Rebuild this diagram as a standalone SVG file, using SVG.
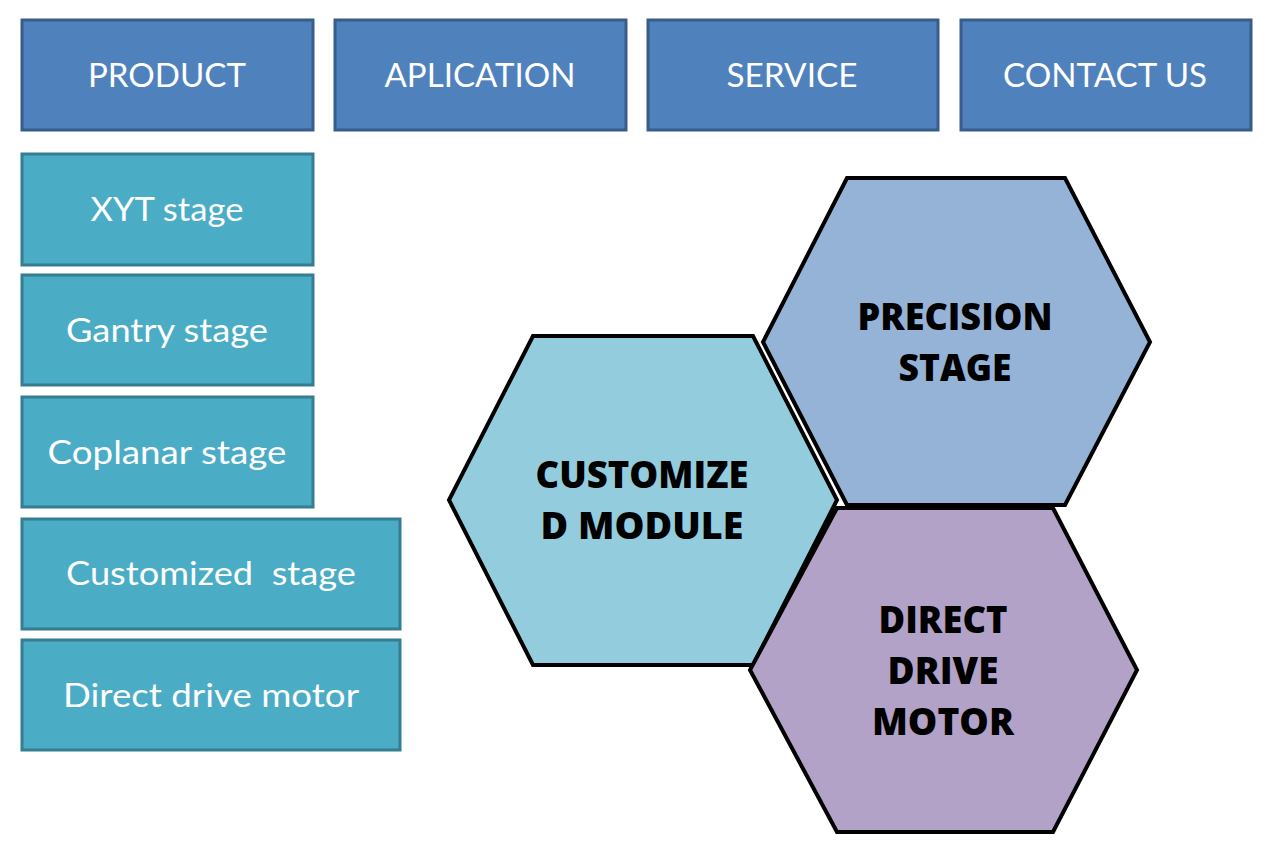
<svg xmlns="http://www.w3.org/2000/svg" width="1273" height="853" viewBox="0 0 1273 853">
<style>
.top{fill:#4f81bd;stroke:#385d8a;stroke-width:3}
.side{fill:#4bacc6;stroke:#357d91;stroke-width:3}
.hex{stroke:#000;stroke-width:4;stroke-linejoin:miter}
.lt{font-family:Lato,"Open Sans",sans-serif;font-size:32px;fill:#fff;text-anchor:middle}
.ht{font-family:"Open Sans",Lato,sans-serif;font-weight:800;font-size:37px;fill:#000;text-anchor:middle}
</style>
<rect width="1273" height="853" fill="#fff"/>
<g id="product"><rect class="top" x="22" y="20" width="291" height="110"/><text class="lt" x="167" y="87" textLength="158" lengthAdjust="spacingAndGlyphs">PRODUCT</text></g>
<g id="aplication"><rect class="top" x="335" y="20" width="291" height="110"/><text class="lt" x="480" y="87" textLength="191" lengthAdjust="spacingAndGlyphs">APLICATION</text></g>
<g id="service"><rect class="top" x="648" y="20" width="290" height="110"/><text class="lt" x="792" y="87" textLength="131" lengthAdjust="spacingAndGlyphs">SERVICE</text></g>
<g id="contact"><rect class="top" x="961" y="20" width="290" height="110"/><text class="lt" x="1105" y="87" textLength="204" lengthAdjust="spacingAndGlyphs">CONTACT US</text></g>
<g id="xyt"><rect class="side" x="22" y="154" width="291" height="111"/><text class="lt" x="167" y="221" textLength="153" lengthAdjust="spacingAndGlyphs">XYT stage</text></g>
<g id="gantry"><rect class="side" x="22" y="275" width="291" height="110"/><text class="lt" x="167" y="342" textLength="202" lengthAdjust="spacingAndGlyphs">Gantry stage</text></g>
<g id="coplanar"><rect class="side" x="22" y="397" width="291" height="110"/><text class="lt" x="167" y="464" textLength="239" lengthAdjust="spacingAndGlyphs">Coplanar stage</text></g>
<g id="customized"><rect class="side" x="22" y="519" width="378" height="110"/><text class="lt" x="211" y="585" textLength="290" lengthAdjust="spacingAndGlyphs" xml:space="preserve">Customized  stage</text></g>
<g id="directmotor"><rect class="side" x="22" y="640" width="378" height="110"/><text class="lt" x="211" y="707" textLength="296" lengthAdjust="spacingAndGlyphs">Direct drive motor</text></g>
<g id="precision"><polygon class="hex" fill="#95b3d7" points="847,178 1065,178 1150,342 1065,505 847,505 763,342"/><text class="ht" x="955" y="330" textLength="195" lengthAdjust="spacingAndGlyphs">PRECISION</text><text class="ht" x="955" y="381" textLength="113" lengthAdjust="spacingAndGlyphs">STAGE</text></g>
<g id="customize"><polygon class="hex" fill="#93cddd" points="533,336 753,336 837,500 753,665 533,665 449,500"/><text class="ht" x="642" y="488" textLength="213" lengthAdjust="spacingAndGlyphs">CUSTOMIZE</text><text class="ht" x="642" y="539" textLength="203" lengthAdjust="spacingAndGlyphs">D MODULE</text></g>
<g id="directdrive"><polygon class="hex" fill="#b3a2c7" points="837,508 1053,508 1137,670 1053,832 837,832 750,670"/><text class="ht" x="943" y="633" textLength="129" lengthAdjust="spacingAndGlyphs">DIRECT</text><text class="ht" x="943" y="684" textLength="111" lengthAdjust="spacingAndGlyphs">DRIVE</text><text class="ht" x="943" y="735" textLength="142" lengthAdjust="spacingAndGlyphs">MOTOR</text></g>
<g id="connectors"></g>
</svg>
